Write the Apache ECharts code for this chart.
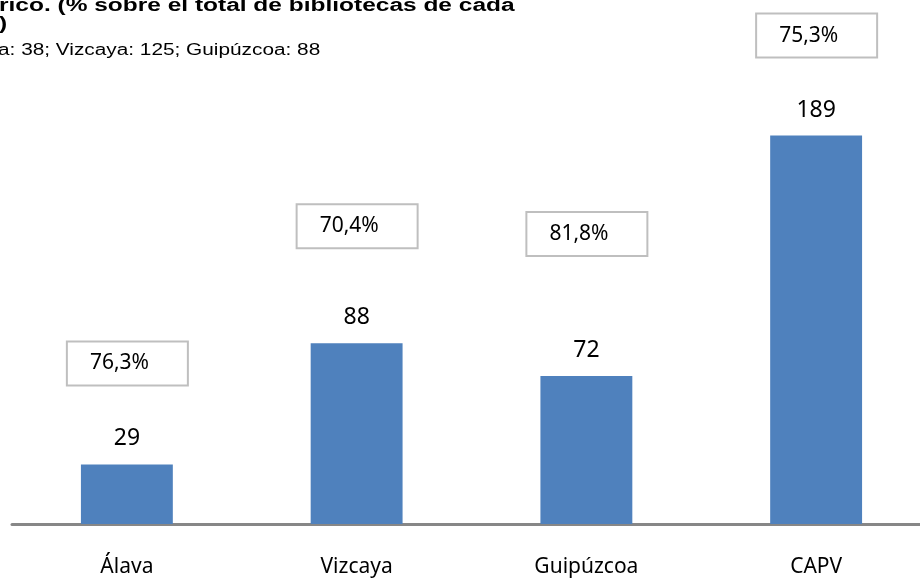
<!DOCTYPE html>
<html>
<head>
<meta charset="utf-8">
<script src="https://cdn.jsdelivr.net/npm/echarts@6/dist/echarts.min.js"></script>
<style>
  html, body { margin: 0; padding: 0; background: #fff; }
  #chart { width: 920px; height: 583px; }
</style>
</head>
<body>
<div id="chart"></div>
<script>
var categories = ['Álava', 'Vizcaya', 'Guipúzcoa', 'CAPV'];
var counts = [29, 88, 72, 189];
var percents = ['76,3%', '70,4%', '81,8%', '75,3%'];
// how far each percent box sits above its bar (px)
var boxLift = [101, 117, 142, 100];

var chart = echarts.init(document.getElementById('chart'), null, { renderer: 'canvas' });

var boxData = counts.map(function (v, i) {
  return {
    value: v,
    label: { offset: [-59, -boxLift[i]] }
  };
});

// the title is cut off by the picture edge and looks stretched sideways
var titleFont = 'bold 18px "Liberation Sans", Arial';
var option = {
  animation: false,
  graphic: [
    { type: 'text', x: -1, y: -3, scaleX: 1.36, style: { text: 'rico. (% sobre el total de bibliotecas de cada', font: titleFont, fill: '#000', verticalAlign: 'top' } },
    { type: 'text', x: -1, y: 15, scaleX: 1.36, style: { text: ')', font: titleFont, fill: '#000', verticalAlign: 'top' } },
    { type: 'text', x: -2, y: 43, scaleX: 1.3, style: { text: 'a: 38; Vizcaya: 125; Guipúzcoa: 88', font: '16px "Liberation Sans", Arial', fill: '#000', verticalAlign: 'top' } }
  ],
  grid: { left: 12, width: 919, top: 113, bottom: 59, outerBoundsMode: 'none' },
  xAxis: {
    type: 'category',
    data: categories,
    axisLine: { lineStyle: { color: '#878787', width: 3 } },
    axisTick: { show: false },
    axisLabel: { color: '#000', fontSize: 21, fontFamily: '"Noto Sans"', margin: 33 }
  },
  yAxis: {
    type: 'value',
    min: 0,
    max: 200,
    show: false,
    splitLine: { show: false }
  },
  series: [
    {
      type: 'bar',
      data: counts,
      barWidth: '40%',
      itemStyle: { color: '#4f81bd' },
      label: {
        show: true,
        position: 'top',
        distance: 14,
        color: '#000',
        fontSize: 23,
        fontFamily: '"Noto Sans"'
      }
    },
    {
      type: 'bar',
      data: boxData,
      barWidth: '40%',
      barGap: '-100%',
      silent: true,
      itemStyle: { color: 'rgba(0,0,0,0)' },
      label: {
        show: true,
        position: 'top',
        distance: 0,
        formatter: function (p) { return percents[p.dataIndex]; },
        color: '#000',
        fontSize: 21,
        fontFamily: '"Noto Sans"',
        align: 'left',
        verticalAlign: 'middle',
        width: 97,
        height: 42,
        lineHeight: 42,
        padding: [0, 0, 0, 22],
        backgroundColor: '#fff',
        borderColor: '#bfbfbf',
        borderWidth: 2
      }
    }
  ]
};

chart.setOption(option);
</script>
</body>
</html>
